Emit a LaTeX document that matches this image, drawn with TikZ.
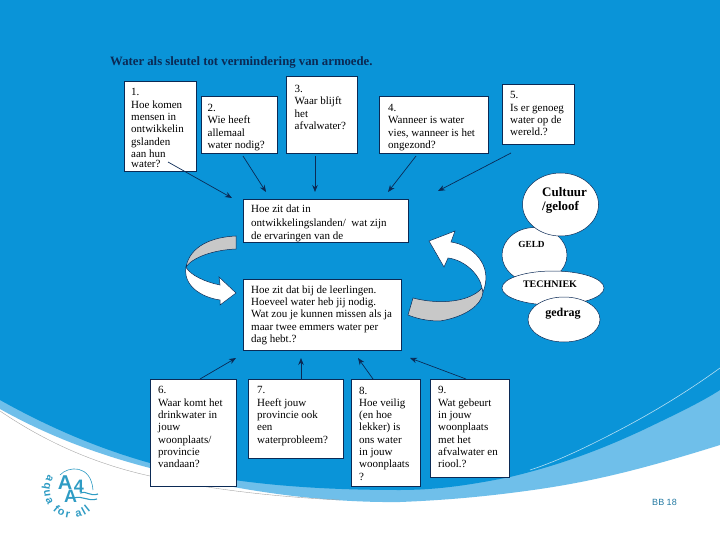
\documentclass[tikz,border=0pt]{standalone}
\usepackage{fontspec}
\setmainfont{Liberation Serif}
\newfontfamily\hv{Liberation Sans}
\definecolor{bgblue}{HTML}{0A94D8}
\definecolor{lightband}{HTML}{6FBFEA}
\definecolor{navy}{HTML}{0B2A55}
\definecolor{logo}{HTML}{2F9CC4}
\definecolor{arrowgray}{HTML}{C8C8C8}
\usetikzlibrary{arrows.meta,shapes.geometric,decorations.text}
\tikzset{
  box/.style={draw=navy,line width=.7pt,fill=white,inner sep=0pt},
  txt/.style={font=\fontsize{11}{12.3}\selectfont,align=left,anchor=north west,inner sep=0pt,text=black},
  con/.style={draw=navy,line width=.7pt,-{Stealth[length=7pt,width=5.5pt]}},
  oval/.style={ellipse,draw=navy,line width=.5pt,fill=white,inner sep=0pt},
  curvearrow/.style={draw=navy,line width=.5pt}
}
\begin{document}
\begin{tikzpicture}[x=1pt,y=-1pt]
\useasboundingbox (0,0) rectangle (720,540);
\fill[white] (0,0) rectangle (720,540);
\fill[lightband] (0,409) .. controls (50,437) and (100,455) .. (150,468) .. controls (230,490) and (320,503) .. (400,502) .. controls (450,500) and (490,496) .. (533,490) .. controls (590,482) and (640,470) .. (720,445) -- (720,300) -- (0,300) -- cycle;
\fill[bgblue] (0,0) -- (720,0) -- (720,390) .. controls (700,403) and (670,417) .. (643,430) .. controls (600,450) and (560,465) .. (510,477) .. controls (475,484) and (440,490) .. (400,490) .. controls (320,490) and (230,485) .. (150,463) .. controls (100,449) and (50,428) .. (0,400) -- cycle;
\draw[white!70!bgblue,line width=.6pt] (530,470) .. controls (555,462) and (580,450) .. (600,440) .. controls (640,420) and (680,397) .. (720,368);
\draw[gray!70,line width=.4pt] (0,411) .. controls (50,445) and (100,465) .. (150,476) .. controls (210,490) and (280,497) .. (340,500);

\node[font=\fontsize{12.75}{14}\selectfont\bfseries,text=navy,anchor=west,inner sep=0pt] (title) at (110,62) {Water als sleutel tot vermindering van armoede.};

\node[box,minimum width=72pt,minimum height=90pt] (b1) at (160,126) {};
\node[txt] (t1a) at (131,88.5) {1.\\Hoe komen\\mensen in\\ontwikkelin\\gslanden\\aan hun};
\begin{scope}\clip (124,160) rectangle (196,166.5);
\node[txt] (t1b) at (131,160.5) {water?};\end{scope}
\node[box,minimum width=76pt,minimum height=57pt] (b2) at (239,125) {};
\node[txt] (t2) at (207.5,104) {2.\\Wie heeft\\allemaal\\water nodig?};
\node[box,minimum width=71pt,minimum height=77pt] (b3) at (322,115) {};
\node[txt] (t3) at (294.5,85) {3.\\Waar blijft\\het\\afvalwater?};
\node[box,minimum width=109pt,minimum height=57pt] (b4) at (434,125) {};
\node[txt] (t4) at (388,104) {4.\\Wanneer is water\\vies, wanneer is het\\ongezond?};
\node[box,minimum width=72pt,minimum height=60pt] (b5) at (538.5,114) {};
\node[txt] (t5) at (510,91.5) {5.\\Is er genoeg\\water op de\\wereld.?};
\node[box,minimum width=165pt,minimum height=43pt] (c1) at (326,221) {};
\node[txt,font=\fontsize{11}{13.5}\selectfont] (tc1) at (251,205) {Hoe zit dat in\\ontwikkelingslanden/~ wat zijn\\de ervaringen van de};
\node[box,minimum width=158pt,minimum height=71pt] (c2) at (322.5,314.5) {};
\node[txt] (tc2) at (251,285.5) {Hoe zit dat bij de leerlingen.\\Hoeveel water heb jij nodig.\\Wat zou je kunnen missen als ja\\maar twee emmers water per\\dag hebt.?};
\node[box,minimum width=86pt,minimum height=107pt] (b6) at (193.5,432.5) {};
\node[txt] (t6) at (158,386.5) {6.\\Waar komt het\\drinkwater in\\jouw\\woonplaats/\\provincie\\vandaan?};
\node[box,minimum width=95pt,minimum height=79pt] (b7) at (296,418.5) {};
\node[txt] (t7) at (257,386.5) {7.\\Heeft jouw\\provincie ook\\een\\waterprobleem?};
\node[box,minimum width=69pt,minimum height=107pt] (b8) at (386,432.5) {};
\node[txt] (t8) at (359,386.5) {8.\\Hoe veilig\\(en hoe\\lekker) is\\ons water\\in jouw\\woonplaats\\?};
\node[box,minimum width=79pt,minimum height=98pt] (b9) at (470,428) {};
\node[txt] (t9) at (438,386.5) {9.\\Wat gebeurt\\in jouw\\woonplaats\\met het\\afvalwater en\\riool.?};

\coordinate (e1) at (232,198);
\coordinate (e2) at (266,192);
\coordinate (e3) at (315,192);
\coordinate (e4) at (388,192);
\coordinate (e5) at (438,191);
\coordinate (s1) at (168,162);
\coordinate (s2) at (243,156);
\coordinate (s3) at (315,156);
\coordinate (s4) at (416,156);
\coordinate (s5) at (511,153);
\draw[con] (s1) -- (e1);
\draw[con] (s2) -- (e2);
\draw[con] (s3) -- (e3);
\draw[con] (s4) -- (e4);
\draw[con] (s5) -- (e5);
\coordinate (u6) at (236,358);
\coordinate (u7) at (301,358);
\coordinate (u8) at (358,358);
\coordinate (u9) at (410,358);
\coordinate (v6) at (200,379);
\coordinate (v7) at (301,379);
\coordinate (v8) at (373,379);
\coordinate (v9) at (466,379);
\draw[con] (v6) -- (u6);
\draw[con] (v7) -- (u7);
\draw[con] (v8) -- (u8);
\draw[con] (v9) -- (u9);

% left curved arrow
\fill[arrowgray,curvearrow] (236,236) .. controls (212,237) and (190,246) .. (186,267) .. controls (192,258) and (212,250) .. (236,249) -- cycle;
\fill[white,curvearrow] (186,267) .. controls (190,275) and (205,282) .. (220,285) -- (219,277) -- (236,293) -- (220,305) -- (220,300) .. controls (200,297) and (183,285) .. (186,267) -- cycle;
% right curved arrow
\fill[arrowgray,curvearrow] (413,298) .. controls (440,305) and (470,302) .. (482,288) -- (483,292) .. controls (482,305) and (465,317) .. (440,321) .. controls (428,321) and (418,319) .. (408,315) -- cycle;
\fill[white,curvearrow] (482,288) .. controls (480,275) and (465,260) .. (448,258) -- (444,267) -- (429,241) -- (455,231) -- (451,242) .. controls (472,245) and (494,265) .. (483,292) -- cycle;

\node[oval,minimum width=65pt,minimum height=55pt] (geld) at (534.5,255) {};
\node[oval,minimum width=76pt,minimum height=63pt] (cult) at (560.5,204.5) {};
\node[oval,minimum width=102pt,minimum height=34pt] (tech) at (553,288) {};
\node[oval,minimum width=72pt,minimum height=45pt] (ged) at (564,319.5) {};
\node[font=\fontsize{13}{14}\selectfont\bfseries,align=left,anchor=north west,inner sep=0pt] (cultt) at (542,187) {Cultuur\\/geloof};
\node[font=\fontsize{9.3}{11}\selectfont\bfseries,inner sep=0pt] (geldt) at (531.5,244.5) {GELD};
\node[font=\fontsize{10}{11}\selectfont\bfseries,inner sep=0pt] (techt) at (550,284.5) {TECHNIEK};
\node[font=\fontsize{12}{14}\selectfont\bfseries,inner sep=0pt] (gedt) at (563,314) {gedrag};

% logo
\coordinate (arcstart) at (48.5,474.8);
\path[postaction={decorate,decoration={text along path,text align={fit to path},text={|\hv\bfseries\fontsize{11}{12}\selectfont\color{logo}|aqua for all}}}] (arcstart) arc[start angle=147,end angle=312,radius=28pt];
\draw[logo,line width=.6pt] (60,475) .. controls (68,466) and (91,464) .. (93,490);
\node[font=\hv\bfseries\fontsize{20}{20}\selectfont,text=logo,inner sep=0pt] (lA1) at (65,482.5) {A};
\node[font=\hv\bfseries\fontsize{18}{18}\selectfont,text=logo,inner sep=0pt] (l4) at (79,486) {4};
\node[font=\hv\bfseries\fontsize{18}{18}\selectfont,text=logo,inner sep=0pt] (lA2) at (70.5,496) {A};
\draw[logo,line width=1.1pt] (80,493) .. controls (86,490) and (90,497) .. (98,494);
\draw[logo,line width=1.1pt] (74,498) .. controls (82,495) and (88,502) .. (97,499);

\node[font=\hv\fontsize{9}{10}\selectfont,text=logo!70!navy,inner sep=0pt] (pg) at (664.5,502) {BB 18};
\end{tikzpicture}
\end{document}
